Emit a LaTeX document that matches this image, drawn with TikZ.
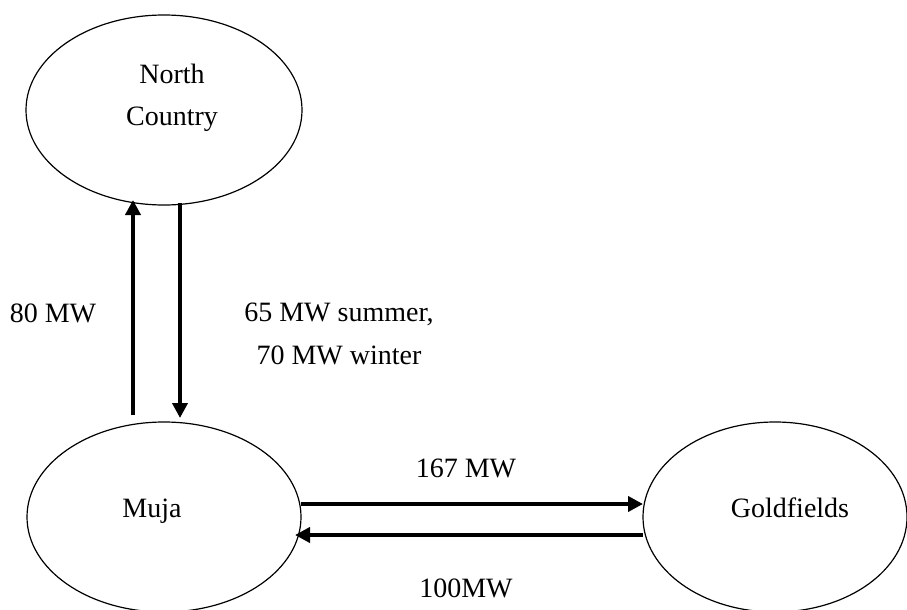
\documentclass[tikz,border=0pt]{standalone}
\usepackage{fontspec}
\setmainfont{Liberation Serif}
\usetikzlibrary{arrows.meta,shapes.geometric}

\begin{document}
\begin{tikzpicture}[x=1pt,y=-1pt,
		region/.style={ellipse,draw,line width=1.2pt,inner sep=0pt,outer sep=0pt,minimum height=190pt},
		flow/.style={line width=4.5pt,-{Triangle[length=15pt,width=15pt]}},
		every node/.style={font=\fontsize{28}{42.5}\selectfont}]
		\useasboundingbox (0,0) rectangle (907,610);

		% Regions
		\node[region,minimum width=276pt] (nc)   at (164,110) {};
		\node[region,minimum width=274pt] (muja) at (164,517) {};
		\node[region,minimum width=264pt] (gold) at (775,517) {};

		% Region names
		\node[align=center] (ncname) at (172,98) {North\\Country};
		\node[anchor=base] (mujaname) at (152,517) {Muja};
		\node[anchor=base] (goldname) at (790,517) {Goldfields};

		% Interconnectors
		\draw[flow] ([xshift=-31pt,yshift=7pt]muja.north) -- ([xshift=-31pt,yshift=5pt]nc.south);
		\draw[flow] ([xshift=16pt,yshift=2pt]nc.south) -- ([xshift=16pt,yshift=4pt]muja.north);
		\draw[flow] ([yshift=13pt]muja.east) -- ([yshift=13pt]gold.west);
		\draw[flow] ([yshift=-18pt]gold.west) -- ([xshift=-6pt,yshift=-18pt]muja.east);

		% Capacities
		\node[anchor=base] (upcap) at (53,322) {80 MW};
		\node[align=center] (downcap) at (339,334) {65 MW summer,\\70 MW winter};
		\node[anchor=base] (eastcap) at (466,477) {167 MW};
		\node[anchor=base] (westcap) at (466,597) {100MW};
	\end{tikzpicture}
\end{document}
